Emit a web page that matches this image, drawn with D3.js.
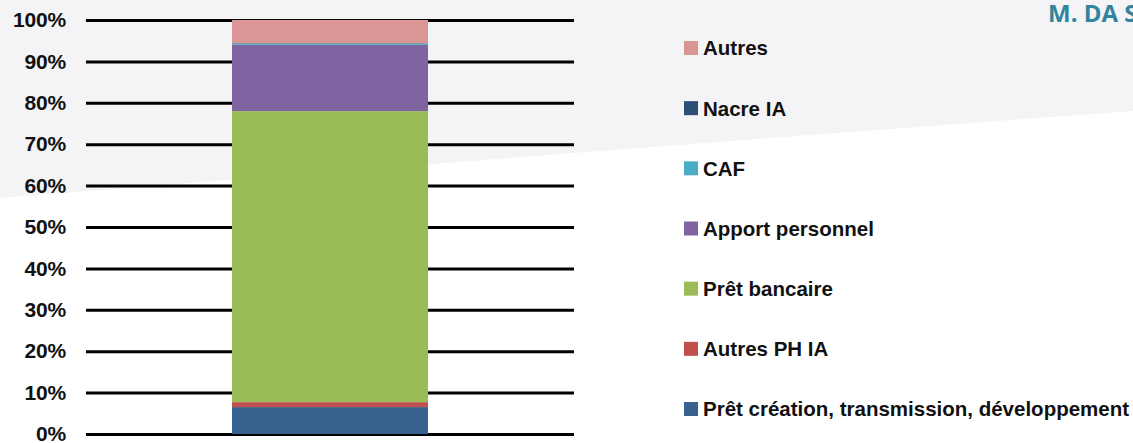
<!DOCTYPE html>
<html>
<head>
<meta charset="utf-8">
<script src="https://cdn.jsdelivr.net/npm/d3@7"></script>
<style>
  html, body { margin: 0; padding: 0; background: #ffffff; }
  svg { display: block; }
</style>
</head>
<body>
<svg id="chart" width="1133" height="443"></svg>
<script>
// ---- data ----
const categories = ["Financement"];
const seriesNames = [
  "Prêt création, transmission, développement",
  "Autres PH IA",
  "Prêt bancaire",
  "Apport personnel",
  "CAF",
  "Nacre IA",
  "Autres"
];
const seriesValues = [6.5, 1.2, 70.3, 16.0, 0.3, 0.1, 5.6];
const seriesColors = ["#37618f", "#c0504d", "#9bbb59", "#8064a2", "#4bacc6", "#2c4d75", "#d99694"];
const tickValues = [0, 10, 20, 30, 40, 50, 60, 70, 80, 90, 100];
const titleText = "M. DA S";

// ---- layout ----
const W = 1133, H = 443;
const svg = d3.select("#chart");

// background band
svg.append("rect").attr("width", W).attr("height", H).attr("fill", "#ffffff");
svg.append("path")
  .attr("d", "M0,0 L1133,0 L1133,111 Q600,150 0,198 Z")
  .attr("fill", "#f4f4f6");

const x = d3.scaleBand().domain(categories).range([86, 574]).paddingInner(0).paddingOuter(0.745);
const y = d3.scaleLinear().domain([0, 100]).range([434, 20]);

// gridlines + labels
const axis = d3.axisLeft(y)
  .tickValues(tickValues)
  .tickSize(-(574 - 86))
  .tickPadding(20)
  .tickFormat(d => d + "%");

const gAxis = svg.append("g").attr("transform", "translate(86,0)").call(axis);
gAxis.select(".domain").remove();
gAxis.selectAll(".tick line").attr("stroke", "#000").attr("stroke-width", 3);
gAxis.selectAll(".tick text")
  .attr("fill", "#111")
  .style("font-family", "'Liberation Sans', Arial, sans-serif")
  .style("font-weight", "bold")
  .style("font-size", "21px")
  .style("letter-spacing", "-0.2px");

// stacked bar
const row = { cat: categories[0] };
seriesNames.forEach((n, i) => row[n] = seriesValues[i]);
const stack = d3.stack().keys(seriesNames)([row]);

svg.append("g").selectAll("rect")
  .data(stack)
  .join("rect")
  .attr("x", d => x(d[0].data.cat))
  .attr("width", x.bandwidth())
  .attr("y", d => y(d[0][1]))
  .attr("height", d => y(d[0][0]) - y(d[0][1]))
  .attr("fill", (d, i) => seriesColors[i]);

// legend (reverse order, top to bottom)
const legendItems = seriesNames.map((n, i) => ({ name: n, color: seriesColors[i] })).reverse();
const ly = d3.scalePoint().domain(legendItems.map(d => d.name)).range([48, 409]);

const lg = svg.append("g").selectAll("g")
  .data(legendItems)
  .join("g")
  .attr("transform", d => `translate(684,${ly(d.name)})`);

lg.append("rect")
  .attr("x", 0).attr("y", -7)
  .attr("width", 14).attr("height", 14)
  .attr("fill", d => d.color);

lg.append("text")
  .attr("x", 19)
  .attr("dy", "0.36em")
  .attr("fill", "#111")
  .style("font-family", "'Liberation Sans', Arial, sans-serif")
  .style("font-weight", "bold")
  .style("font-size", "20.5px")
  .text(d => d.name);

// title (cut off at right edge, as in the reference)
svg.append("text")
  .attr("x", 1048)
  .attr("y", 22)
  .attr("fill", "#31849b")
  .style("font-family", "'Open Sans', 'Noto Sans', sans-serif")
  .style("font-weight", "bold")
  .style("font-size", "24px")
  .text(titleText);
</script>
</body>
</html>
